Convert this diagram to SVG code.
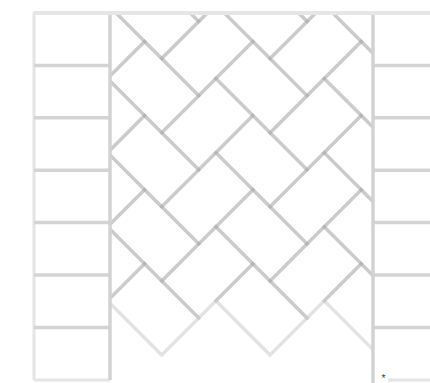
<svg xmlns="http://www.w3.org/2000/svg" width="430" height="383" viewBox="0 0 430 383">
  <style>
    .hb rect { fill: none; stroke: #000; stroke-opacity: 0.11; stroke-width: 3.5; }
    .inner { stroke: #d4d4d4; stroke-width: 3.5; }
    .outer { stroke: #e4e4e4; stroke-width: 3; }
    .edge { stroke: #d2d2d2; stroke-width: 3.5; }
    .star { font-family: "Liberation Sans", Arial, sans-serif; font-size: 10.5px; fill: #444; }
  </style>
  <defs>
    <clipPath id="hbclip">
      <rect x="110" y="13" width="263" height="370"/>
    </clipPath>
    <filter id="soft" filterUnits="userSpaceOnUse" x="0" y="0" width="430" height="383">
      <feGaussianBlur stdDeviation="0.5"/>
    </filter>
  </defs>
  <rect width="430" height="383" fill="#fff"/>
  <g id="herringbone" clip-path="url(#hbclip)" filter="url(#soft)">
    <g class="hb" transform="translate(144.6 263.8) rotate(45)">
      <!-- H bricks (76.6 x 52.4) -->
      <rect x="0" y="0" width="76.6" height="52.4"/>
      <rect x="76.6" y="-76.6" width="76.6" height="52.4"/>
      <rect x="153.2" y="-153.2" width="76.6" height="52.4"/>
      <rect x="-52.4" y="-52.4" width="76.6" height="52.4"/>
      <rect x="24.2" y="-129" width="76.6" height="52.4"/>
      <rect x="100.8" y="-205.6" width="76.6" height="52.4"/>
      <rect x="-104.8" y="-104.8" width="76.6" height="52.4"/>
      <rect x="-28.2" y="-181.4" width="76.6" height="52.4"/>
      <rect x="48.4" y="-258" width="76.6" height="52.4"/>
      <rect x="-157.2" y="-157.2" width="76.6" height="52.4"/>
      <rect x="-80.6" y="-233.8" width="76.6" height="52.4"/>
      <rect x="-4" y="-310.4" width="76.6" height="52.4"/>
      <rect x="-209.6" y="-209.6" width="76.6" height="52.4"/>
      <rect x="-133" y="-286.2" width="76.6" height="52.4"/>
      <rect x="-56.4" y="-362.8" width="76.6" height="52.4"/>
      <!-- V bricks (52.4 x 76.6) -->
      <rect x="-52.4" y="0" width="52.4" height="76.6"/>
      <rect x="24.2" y="-76.6" width="52.4" height="76.6"/>
      <rect x="100.8" y="-153.2" width="52.4" height="76.6"/>
      <rect x="-104.8" y="-52.4" width="52.4" height="76.6"/>
      <rect x="-28.2" y="-129" width="52.4" height="76.6"/>
      <rect x="48.4" y="-205.6" width="52.4" height="76.6"/>
      <rect x="-157.2" y="-104.8" width="52.4" height="76.6"/>
      <rect x="-80.6" y="-181.4" width="52.4" height="76.6"/>
      <rect x="-4" y="-258" width="52.4" height="76.6"/>
      <rect x="-209.6" y="-157.2" width="52.4" height="76.6"/>
      <rect x="-133" y="-233.8" width="52.4" height="76.6"/>
      <rect x="-56.4" y="-310.4" width="52.4" height="76.6"/>
      <rect x="-262" y="-209.6" width="52.4" height="76.6"/>
      <rect x="-185.4" y="-286.2" width="52.4" height="76.6"/>
      <rect x="-108.8" y="-362.8" width="52.4" height="76.6"/>
    </g>
  </g>
  <g id="left-column" filter="url(#soft)">
    <line class="outer" x1="34" y1="13" x2="34" y2="380"/>
    <line class="outer" x1="34" y1="380" x2="110" y2="380"/>
    <line class="inner" x1="34" y1="65.4" x2="110" y2="65.4"/>
    <line class="inner" x1="34" y1="117.8" x2="110" y2="117.8"/>
    <line class="inner" x1="34" y1="170.2" x2="110" y2="170.2"/>
    <line class="inner" x1="34" y1="222.6" x2="110" y2="222.6"/>
    <line class="inner" x1="34" y1="275" x2="110" y2="275"/>
    <line class="inner" x1="34" y1="327.4" x2="110" y2="327.4"/>
    <line class="edge" x1="110" y1="13" x2="110" y2="380"/>
  </g>
  <g id="right-column">
    <g filter="url(#soft)">
      <line class="inner" x1="373" y1="65.4" x2="430" y2="65.4"/>
      <line class="inner" x1="373" y1="117.8" x2="430" y2="117.8"/>
      <line class="inner" x1="373" y1="170.2" x2="430" y2="170.2"/>
      <line class="inner" x1="373" y1="222.6" x2="430" y2="222.6"/>
      <line class="inner" x1="373" y1="275" x2="430" y2="275"/>
      <line class="inner" x1="373" y1="327.4" x2="430" y2="327.4"/>
      <line class="outer" x1="388" y1="380" x2="430" y2="380"/>
      <line class="edge" x1="373" y1="13" x2="373" y2="383"/>
    </g>
    <text class="star" x="381.5" y="381.5">*</text>
  </g>
  <g id="top-border" filter="url(#soft)">
    <line x1="33" y1="13" x2="430" y2="13" stroke="#e6e6e6" stroke-width="4"/>
  </g>
</svg>
